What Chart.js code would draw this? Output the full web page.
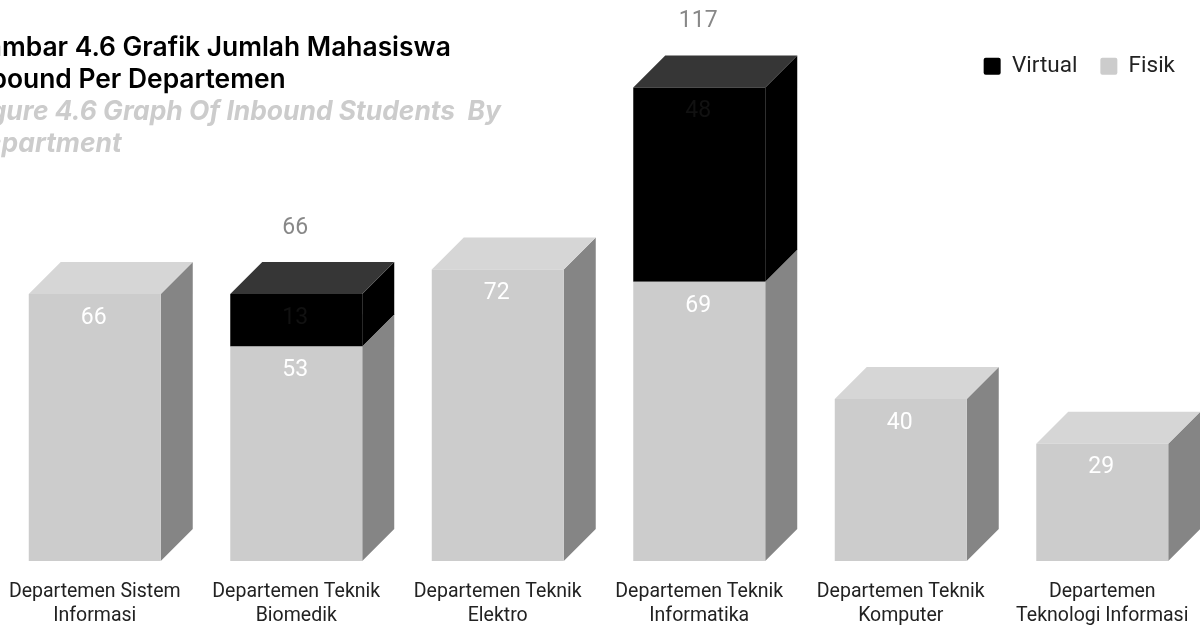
<!DOCTYPE html>
<html lang="id">
<head>
<meta charset="utf-8">
<title>Grafik Jumlah Mahasiswa Inbound</title>
<script src="https://cdn.jsdelivr.net/npm/chart.js@4"></script>
<style>
    html, body { margin: 0; height: 100%; background: #ffffff; overflow: hidden; }
    #inboundChart { position: absolute; left: -6px; top: 0; }
    .chart-title {
        position: absolute;
        left: -33px;
        top: 30px;
        font-family: Inter, sans-serif;
        font-size: 26.4px;
        line-height: 32px;
        font-weight: 600;
        white-space: nowrap;
        color: #000000;
    }
    .chart-title em { font-weight: 700; color: #cccccc; font-style: italic; }
</style>
</head>
<body>
<canvas id="inboundChart" width="1209" height="626"></canvas>
<div class="chart-title">
    Gambar 4.6 Grafik Jumlah Mahasiswa<br>
    Inbound Per Departemen<br>
    <em>Figure 4.6 Graph Of Inbound Students&nbsp; By<br>
    Department</em>
</div>

<script>
// Chart data
const departments = [
    ['Departemen Sistem', 'Informasi'],
    ['Departemen Teknik', 'Biomedik'],
    ['Departemen Teknik', 'Elektro'],
    ['Departemen Teknik', 'Informatika'],
    ['Departemen Teknik', 'Komputer'],
    ['Departemen', 'Teknologi Informasi']
];
const fisik = [66, 53, 72, 69, 40, 29];
const virtual = [null, 13, null, 48, null, null];
const totals = [null, 66, null, 117, null, null];
const yMax = 117;

// Box depth and face colours
const depth = 32;
const faces = {
    Fisik: { side: '#858585', top: '#d6d6d6', label: '#ffffff' },
    Virtual: { side: '#000000', top: '#363636', label: '#111111' }
};

function fillFace(ctx, color, points) {
    ctx.fillStyle = color;
    ctx.beginPath();
    points.forEach(p => ctx.lineTo(p[0], p[1]));
    ctx.closePath();
    ctx.fill();
}

// Draws the side and top of each box behind the bars
const boxFaces = {
    id: 'boxFaces',
    beforeDatasetsDraw(chart) {
        const ctx = chart.ctx;
        chart.data.datasets.forEach((dataset, d) => {
            const color = faces[dataset.label];
            chart.getDatasetMeta(d).data.forEach((bar, i) => {
                if (dataset.data[i] === null) return;
                const props = bar.getProps(['x', 'y', 'base', 'width'], true);
                const left = props.x - props.width / 2;
                const right = props.x + props.width / 2;
                fillFace(ctx, color.side, [
                    [right, props.y], [right + depth, props.y - depth],
                    [right + depth, props.base - depth], [right, props.base]
                ]);
                fillFace(ctx, color.top, [
                    [left, props.y], [left + depth, props.y - depth],
                    [right + depth, props.y - depth], [right, props.y]
                ]);
            });
        });
    }
};

// Value labels inside the bars and totals above the stacks
const valueLabels = {
    id: 'valueLabels',
    afterDatasetsDraw(chart) {
        const ctx = chart.ctx;
        ctx.save();
        ctx.font = '23px Roboto';
        ctx.textAlign = 'center';
        ctx.textBaseline = 'middle';
        chart.data.datasets.forEach((dataset, d) => {
            ctx.fillStyle = faces[dataset.label].label;
            chart.getDatasetMeta(d).data.forEach((bar, i) => {
                if (dataset.data[i] === null) return;
                ctx.fillText(dataset.data[i], bar.x - 1, bar.y + 24);
            });
        });
        ctx.fillStyle = '#888888';
        const topBars = chart.getDatasetMeta(1).data;
        totals.forEach((total, i) => {
            if (total === null) return;
            ctx.fillText(total, topBars[i].x - 1, topBars[i].y - 66);
        });
        ctx.restore();
    }
};

// Legend stops short of the canvas edge
const legendInset = {
    id: 'legendInset',
    afterLayout(chart) {
        chart.legend.right -= 5;
    }
};

// Initialize chart
function initInboundChart() {
    const ctx = document.getElementById('inboundChart').getContext('2d');

    new Chart(ctx, {
        type: 'bar',
        data: {
            labels: departments,
            datasets: [
                { label: 'Fisik', data: fisik, backgroundColor: '#cccccc' },
                { label: 'Virtual', data: virtual, backgroundColor: '#000000' }
            ]
        },
        options: {
            responsive: false,
            animation: false,
            layout: {
                padding: { top: 32 }
            },
            datasets: {
                bar: {
                    categoryPercentage: 1,
                    barPercentage: 0.655,
                    clip: false
                }
            },
            plugins: {
                legend: {
                    position: 'top',
                    align: 'end',
                    reverse: true,
                    labels: {
                        boxWidth: 17,
                        boxHeight: 17,
                        padding: 23,
                        useBorderRadius: true,
                        borderRadius: 2,
                        color: '#222222',
                        font: { family: 'Roboto', size: 22.5 }
                    }
                },
                tooltip: { enabled: false }
            },
            scales: {
                x: {
                    stacked: true,
                    border: { display: false },
                    grid: { display: false },
                    afterFit(scale) {
                        scale.height = 65;
                    },
                    ticks: {
                        color: '#222222',
                        maxRotation: 0,
                        autoSkip: false,
                        padding: 11,
                        font: { family: 'Roboto', size: 19.5, lineHeight: 1.23 }
                    }
                },
                y: {
                    stacked: true,
                    display: false,
                    min: 0,
                    max: yMax
                }
            }
        },
        plugins: [boxFaces, valueLabels, legendInset]
    });
}

document.addEventListener('DOMContentLoaded', initInboundChart);
</script>
</body>
</html>
